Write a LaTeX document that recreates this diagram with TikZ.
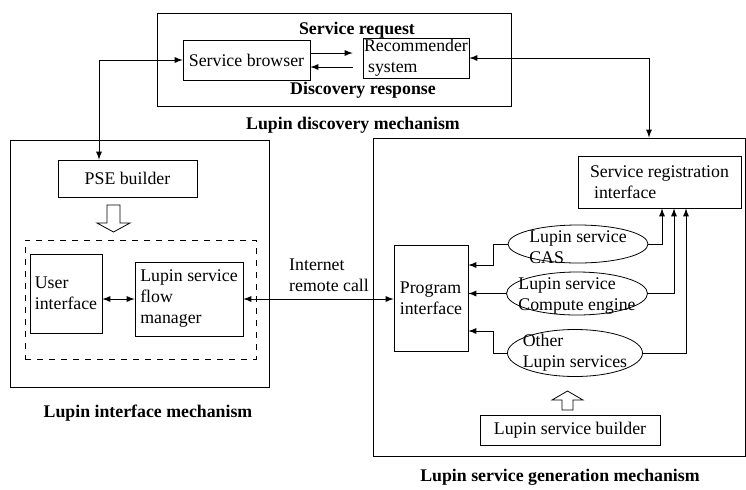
\documentclass[tikz,border=0pt]{standalone}
\usepackage{fontspec}
\setmainfont{Liberation Serif}
\usetikzlibrary{calc,fit,shapes.geometric}

\tikzset{
	frame/.style={draw, line width=0.5pt, inner sep=0pt},
	box/.style={draw, line width=0.4pt, inner sep=1pt},
	svc/.style={draw, ellipse, line width=0.4pt, inner sep=0pt},
	title/.style={font=\fontsize{8.9}{10.5}\selectfont\bfseries},
}

\begin{document}
\begin{tikzpicture}[x=0.5pt, y=-0.5pt, >=latex, font=\fontsize{8.9}{10.5}\selectfont]
	\useasboundingbox (0,0) rectangle (746,489);
	% frames
	\node[frame, fit={(157,13) (511,106)}] (disc) {};
	\node[frame, fit={(10,140) (269,387)}] (intf) {};
	\node[frame, fit={(373,138) (745,456)}] (gen) {};
	\node[frame, dashed, line width=0.4pt, fit={(25,240) (256,359)}] (flow) {};
	%
	\node[box, minimum width=63.5pt, minimum height=20pt] (sb) at (246.5,60) {Service browser};
	\node[box, minimum width=53pt, minimum height=20pt, inner sep=0.5pt, align=left] (rs) at (416,58) {Recommender\\\hspace*{2pt}system};
	\node[title] (sreq) at (357,30) {Service request};
	\node[title] (dresp) at (363,90) {Discovery response};
	\node[title] (disct) at (353,125) {Lupin discovery mechanism};
	%
	\node[box, minimum width=69.5pt, minimum height=18.5pt] (pse) at (127.5,178.5) {PSE builder};
	\node[box, minimum width=36pt, minimum height=39.5pt, align=left] (ui) at (66,293.5) {User\\interface};
	\node[box, minimum width=54pt, minimum height=37pt, align=left] (fm) at (189,299) {Lupin service\\flow\\manager};
	\node[title] (intt) at (148,413) {Lupin interface mechanism};
	%
	\node[box, minimum width=81.5pt, minimum height=26pt, align=left] (sri) at (659.5,182) {Service registration\\\hspace*{2pt}interface};
	\node[box, minimum width=37pt, minimum height=53pt, align=left] (pi) at (431,298) {Program\\interface};
	\node[svc, minimum width=70pt, minimum height=19pt, label={[align=left, yshift=-1.5pt]center:Lupin service\\CAS}] (cas) at (578,244) {};
	\node[svc, minimum width=70.5pt, minimum height=21.5pt, label={[align=left, yshift=-1.5pt]center:Lupin service\\Compute engine}] (ce) at (577,293.5) {};
	\node[svc, minimum width=67.5pt, minimum height=23.5pt, label={[align=left]center:Other\\Lupin services}] (oth) at (575,353) {};
	\node[box, minimum width=90pt, minimum height=15pt] (lsb) at (570,430) {Lupin service builder};
	\node[title] (gent) at (560,477) {Lupin service generation mechanism};
	%
	\draw[<->] ([xshift=-14.25pt]pse.north) |- (sb.west);
	\draw[<->] (rs.east) -| ([xshift=45pt]gen.north);
	\draw[->, shorten >=5pt] ($(sb.east)+(0,-7)$) -- ($(sb.east -| rs.west)+(0,-7)$);
	\draw[->, shorten <=5pt] ($(sb.east -| rs.west)+(0,7)$) -- ($(sb.east)+(0,7)$);
	\draw[<->] (ui.east |- fm.west) -- (fm.west);
	\draw[<->] (fm.east) -- (fm.east -| pi.west) node[pos=0.57, above, align=left] {Internet\\remote call};
	\draw[->] (cas.west) -- ++(-14,0) |- ($(pi.east)+(0,-33)$);
	\draw[->] (ce.west) -- (ce.west -| pi.east);
	\draw[->] (oth.west) -- ++(-14,0) |- ($(pi.east)+(0,33)$);
	\draw[->] (cas.east) -| ([xshift=1.25pt]sri.south);
	\draw[->] (ce.east) -| ([xshift=7.25pt]sri.south);
	\draw[->] (oth.east) -| ([xshift=13.25pt]sri.south);
	% hollow arrows
	\draw (107,205) -- (120,205) -- (120,223) -- (130,223) -- (113.5,232) -- (97,223) -- (107,223) -- cycle;
	\draw (562,410) -- (573,410) -- (573,400) -- (583,400) -- (567.5,391) -- (552,400) -- (562,400) -- cycle;
\end{tikzpicture}
\end{document}
